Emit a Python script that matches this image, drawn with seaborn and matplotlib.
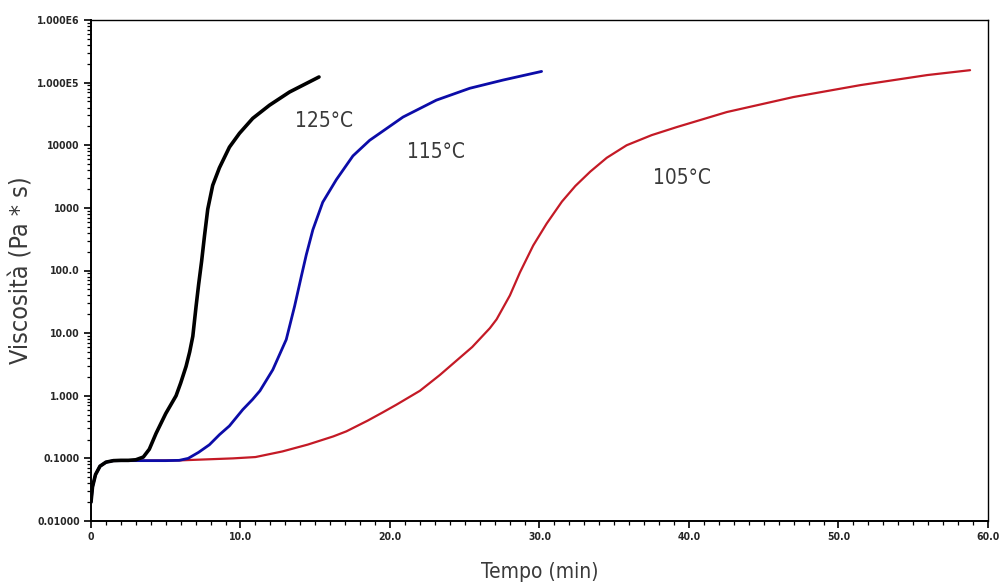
import matplotlib
matplotlib.use("Agg")
import matplotlib.pyplot as plt
import matplotlib.ticker as mticker
import numpy as np
import pandas as pd
import seaborn as sns

# Viscosity curves (time in min, viscosity in Pa*s)
t_125 = [0, 0.1, 0.3, 0.6, 1.0, 1.5, 2.0, 2.5, 3.0, 3.5, 3.9, 4.35, 5.0, 5.69,
         6.0, 6.36, 6.6, 6.81, 7.03, 7.2, 7.4, 7.59, 7.81, 8.14, 8.59, 9.26,
         9.93, 10.82, 11.94, 13.28, 15.25]
v_125 = [0.02, 0.035, 0.055, 0.075, 0.087, 0.092, 0.093, 0.093, 0.095, 0.105,
         0.14, 0.25, 0.52, 1.0, 1.6, 2.95, 5.0, 8.9, 27, 60, 141, 355, 955,
         2290, 4370, 9330, 15500, 26900, 43600, 70800, 123000]

t_115 = [0, 0.1, 0.3, 0.6, 1.0, 1.5, 3.0, 5.0, 5.9, 6.5, 7.2, 7.92, 8.6, 9.26,
         10.15, 10.8, 11.3, 12.16, 13.06, 13.62, 14.06, 14.4, 14.84, 15.5,
         16.41, 17.52, 18.64, 19.31, 20.87, 23.1, 25.34, 27.57, 30.14]
v_115 = [0.02, 0.035, 0.055, 0.075, 0.087, 0.092, 0.092, 0.092, 0.093, 0.10,
         0.125, 0.165, 0.24, 0.33, 0.60, 0.87, 1.2, 2.6, 7.9, 27, 79, 178,
         447, 1230, 2820, 6760, 12000, 15500, 28200, 52500, 81300, 110000,
         151000]

t_105 = [0, 0.1, 0.3, 0.6, 1.0, 1.5, 3.0, 6.0, 9.5, 11.0, 12.8, 14.5, 16.2,
         17.08, 18.5, 19.5, 20.43, 22.0, 23.33, 25.5, 26.68, 27.13, 28.02,
         28.69, 29.58, 30.48, 31.5, 32.4, 33.4, 34.5, 35.83, 37.5, 39.18,
         42.53, 46.99, 51.46, 55.93, 58.8]
v_105 = [0.02, 0.035, 0.055, 0.075, 0.087, 0.092, 0.092, 0.093, 0.10, 0.105,
         0.129, 0.166, 0.224, 0.27, 0.40, 0.54, 0.72, 1.2, 2.14, 6.0, 12.0,
         16.6, 40, 93, 251, 562, 1260, 2240, 3800, 6310, 10000, 14500, 19500,
         33900, 58900, 91200, 132000, 158000]

series_labels = ["105°C", "115°C", "125°C"]
series_colors = ["#c41a26", "#0c0ca8", "#000000"]
series_widths = [1.6, 2.0, 2.6]
label_pos = [(39.5, 3.0e3), (23.1, 7.8e3), (15.6, 2.4e4)]

y_ticks = [0.01, 0.1, 1, 10, 100, 1000, 1e4, 1e5, 1e6]
y_ticklabels = ["0.01000", "0.1000", "1.000", "10.00", "100.0", "1000",
                "10000", "1.000E5", "1.000E6"]
x_ticks = [0, 10, 20, 30, 40, 50, 60]
x_ticklabels = ["0", "10.0", "20.0", "30.0", "40.0", "50.0", "60.0"]

frames = []
for lab, t, v in zip(series_labels, [t_105, t_115, t_125], [v_105, v_115, v_125]):
    frames.append(pd.DataFrame({"Tempo": t, "Viscosita": v, "T": lab}))
df = pd.concat(frames, ignore_index=True)

sns.set_style("ticks")
plt.rcParams["font.family"] = ["DejaVu Sans"]
plt.rcParams["font.stretch"] = "condensed"

fig = plt.figure(figsize=(10.04, 5.88), dpi=100)
ax = fig.add_axes([91 / 1004, 1 - 521 / 588, (988 - 91) / 1004, (521 - 20) / 588])

for lab, col, lw in zip(series_labels, series_colors, series_widths):
    sns.lineplot(data=df[df["T"] == lab], x="Tempo", y="Viscosita", ax=ax,
                 color=col, linewidth=lw, sort=False, estimator=None)

ax.set_yscale("log")
ax.set_xlim(0, 60)
ax.set_ylim(0.01, 1e6)

ax.set_yticks(y_ticks)
ax.set_yticklabels(y_ticklabels, fontweight="bold", fontsize=7.5)
ax.yaxis.set_minor_locator(mticker.LogLocator(base=10, subs=np.arange(2, 10), numticks=20))
ax.yaxis.set_minor_formatter(mticker.NullFormatter())
ax.set_xticks(x_ticks)
ax.set_xticklabels(x_ticklabels, fontweight="bold", fontsize=7.5)
ax.xaxis.set_minor_locator(mticker.MultipleLocator(1))

ax.tick_params(axis="both", which="major", direction="out", length=5, width=1.2,
               color="black", pad=3)
ax.tick_params(axis="both", which="minor", direction="out", length=3, width=0.9,
               color="black")

for s in ax.spines.values():
    s.set_visible(True)
    s.set_color("black")
    s.set_linewidth(1.0)
ax.spines["left"].set_linewidth(1.4)
ax.spines["bottom"].set_linewidth(1.4)

ax.set_xlabel("Tempo (min)", fontsize=15, color="#3a3a3a", labelpad=14)
ax.set_ylabel("Viscosità (Pa * s)", fontsize=18, color="#3a3a3a", labelpad=3)

for lab, (x, y) in zip(series_labels, label_pos):
    ax.text(x, y, lab, fontsize=15, color="#3a3a3a", ha="center", va="center")

ax.grid(False)
fig.savefig("out.png", dpi=100, facecolor="white")
